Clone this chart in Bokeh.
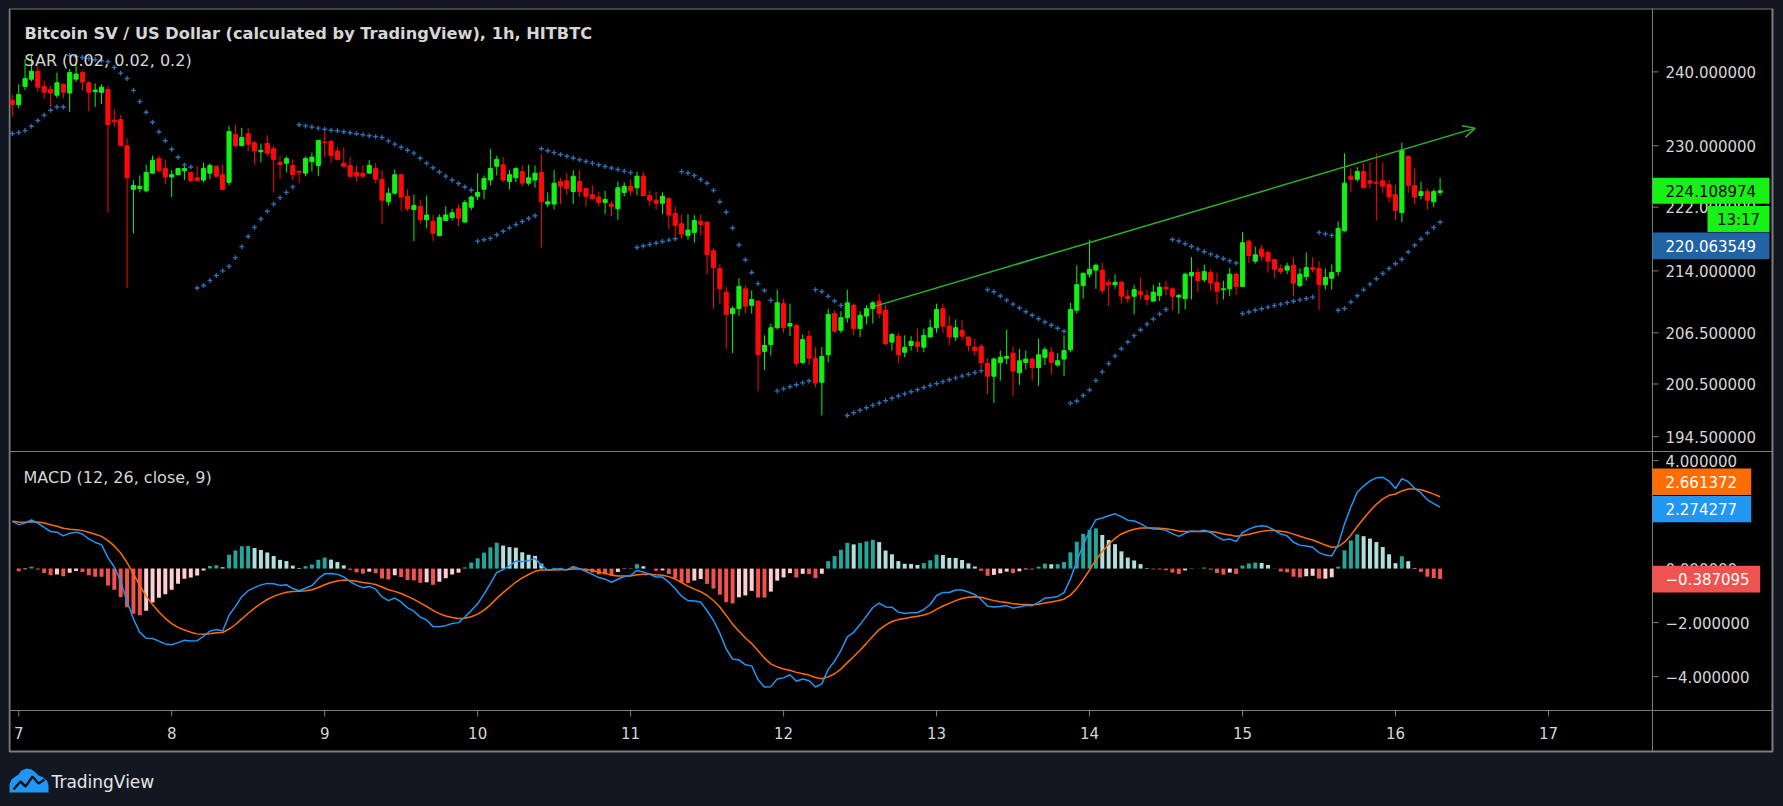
import math
from bokeh.plotting import figure
from bokeh.models import Range1d, LinearScale, Arrow, OpenHead
from bokeh.core.properties import value
from bokeh.embed import file_html
from bokeh.resources import INLINE

# ---------------- data (BSV/USD, 1h, HitBTC; candle 0 = Jul 6 23:00) ----------------
opens = [236.1,235.5,238.0,239.0,240.1,238.0,237.6,236.8,238.3,237.1,
         239.0,239.9,238.5,237.3,237.2,237.6,233.4,233.5,230.0,224.3,
         224.4,224.1,226.4,228.3,227.0,225.9,226.2,226.7,226.5,225.8,
         225.5,226.4,227.3,226.2,225.2,231.5,230.0,231.6,230.4,229.2,
         230.3,229.6,227.8,227.7,227.4,226.6,226.4,227.9,227.4,230.5,
         230.6,229.3,227.7,227.4,226.5,226.4,226.4,227.0,225.6,222.7,
         223.8,226.2,223.4,221.7,222.1,220.4,220.2,218.4,220.3,220.7,
         221.8,220.1,222.0,223.4,224.3,225.5,227.3,227.5,225.3,225.8,
         226.6,225.1,225.5,226.5,222.4,222.4,225.3,225.4,224.0,225.3,
         224.4,223.6,223.3,222.6,222.4,221.8,223.9,224.7,224.5,226.0,
         223.5,222.9,222.5,223.1,221.2,219.9,218.4,218.8,220.2,220.1,
         216.5,214.3,211.4,208.8,209.4,211.8,209.8,210.3,204.3,205.1,
         207.1,210.0,207.3,207.4,203.0,206.1,203.5,200.7,203.9,208.8,
         206.8,208.3,209.8,207.0,208.5,209.4,210.3,209.2,205.4,206.1,
         204.2,205.0,205.4,204.8,206.0,207.1,209.4,207.3,206.0,206.8,
         206.0,204.8,204.9,202.9,201.4,203.0,203.5,204.1,201.8,203.0,
         203.4,202.4,203.6,204.2,202.7,203.4,204.5,209.2,212.2,213.6,
         214.1,214.1,212.6,212.3,212.6,210.9,210.9,211.5,211.0,210.3,
         211.0,212.0,211.8,210.8,210.6,213.4,213.8,212.9,213.8,212.6,
         211.7,211.8,213.6,212.1,217.7,215.2,216.7,216.3,215.4,214.3,
         214.1,214.7,212.2,213.3,214.4,214.3,212.3,213.1,213.9,219.0,
         226.0,225.6,226.6,225.4,225.2,225.4,224.9,223.6,221.3,228.6,
         224.8,223.5,224.0,222.7,223.9]
highs = [236.9,238.3,241.8,242.3,240.8,238.8,238.1,239.9,238.4,240.4,
         241.1,240.2,238.7,238.4,238.3,238.1,234.9,234.1,231.0,225.5,
         226.1,227.5,228.7,228.7,228.2,226.8,227.0,227.2,226.5,227.3,
         227.8,227.7,227.4,227.5,232.6,232.8,232.4,232.4,230.6,230.3,
         231.4,230.0,228.7,228.6,228.2,226.8,228.6,229.1,230.7,232.0,
         230.7,229.8,229.8,228.5,227.4,227.4,228.1,227.7,226.8,224.5,
         226.9,226.2,224.3,223.6,222.9,223.5,221.0,221.1,222.1,221.8,
         222.4,222.9,223.5,226.4,226.1,229.6,228.7,228.5,226.8,227.2,
         227.4,227.5,227.4,228.9,223.9,226.8,225.8,226.4,226.8,226.8,
         224.5,224.8,224.0,224.1,222.7,225.3,225.2,225.6,226.6,226.6,
         224.1,224.0,223.9,223.3,222.1,221.1,221.1,221.0,221.1,220.2,
         216.8,214.8,212.1,209.7,213.1,212.2,211.6,210.4,206.2,207.6,
         211.7,210.6,210.0,207.5,206.3,206.8,204.8,204.8,209.4,209.2,
         209.1,211.7,210.0,209.1,209.8,210.3,211.2,209.9,206.5,206.5,
         206.2,206.1,207.0,207.0,208.1,210.0,210.0,208.6,208.1,208.0,
         206.0,205.8,205.2,203.5,203.6,204.4,206.9,204.9,204.6,204.4,
         203.6,205.8,204.8,204.8,204.1,206.2,210.1,214.7,213.8,217.9,
         214.9,215.0,213.0,213.6,212.8,211.7,212.3,213.2,211.6,212.3,
         212.6,212.8,212.0,211.2,213.8,215.7,214.3,214.8,214.2,213.8,
         212.8,214.4,213.8,218.8,217.9,217.0,217.2,216.5,215.4,214.8,
         215.0,215.7,214.3,216.3,215.7,215.2,214.3,214.8,220.2,229.0,
         227.0,227.2,227.8,227.8,229.0,227.8,225.5,224.9,230.4,228.7,
         227.0,225.3,224.4,224.3,225.8]
lows = [233.9,235.0,237.5,238.7,237.2,236.3,235.2,236.4,236.4,234.5,
        238.6,237.4,234.6,235.2,235.6,221.3,232.5,230.0,211.9,218.7,
        223.9,223.9,226.4,226.5,225.0,223.3,226.1,225.5,225.2,225.4,
        225.2,225.6,225.8,224.3,224.8,229.8,230.0,229.3,227.5,227.8,
        228.6,223.9,225.6,226.5,225.5,225.1,226.0,226.6,226.0,228.5,
        227.7,228.1,227.1,225.7,225.3,225.8,226.4,225.1,219.9,222.2,
        223.6,221.5,221.5,217.7,219.9,219.3,217.7,218.3,220.2,220.3,
        219.6,220.1,221.6,222.9,223.0,224.8,226.1,225.2,224.3,225.2,
        224.7,224.8,224.5,216.9,222.0,221.7,222.4,223.6,222.4,223.3,
        222.1,222.9,222.1,221.1,220.8,220.4,223.4,223.5,223.5,223.4,
        222.2,221.7,221.1,219.2,218.3,218.0,217.9,217.5,218.4,213.6,
        209.4,210.0,204.6,204.1,208.5,208.8,208.8,199.7,202.1,203.8,
        206.9,206.5,206.1,202.5,202.8,202.7,200.1,196.9,203.0,206.5,
        206.5,207.7,206.2,206.0,207.5,207.6,208.2,205.0,204.4,202.9,
        203.6,204.4,204.2,204.2,206.0,206.5,206.5,205.0,205.5,205.6,
        204.3,203.8,202.3,199.3,198.3,200.9,202.8,199.1,200.4,202.2,
        200.9,200.3,202.7,201.6,202.5,201.4,204.2,208.8,210.6,213.2,
        211.8,211.2,209.7,211.8,210.0,210.1,208.7,210.5,209.8,210.3,
        210.3,211.0,209.2,208.8,209.3,210.5,211.4,212.6,211.6,209.9,
        210.5,210.9,211.1,212.0,215.0,214.9,215.2,213.8,213.1,213.6,
        213.6,210.9,212.0,212.8,213.8,209.2,211.7,211.7,213.4,218.9,
        223.9,225.3,224.5,224.4,220.3,223.8,222.6,220.4,220.1,223.8,
        222.4,223.0,221.7,222.0,223.5]
closes = [235.5,236.9,239.1,240.1,237.9,237.2,237.1,238.5,237.2,239.9,
          239.7,238.6,237.2,237.5,237.9,232.8,233.2,230.0,225.8,224.8,
          224.7,226.5,228.1,226.7,225.9,226.2,227.0,227.0,225.4,225.4,
          227.0,227.4,226.0,224.3,231.9,230.0,231.1,230.2,229.3,229.4,
          229.0,228.2,227.5,228.3,226.2,226.5,228.3,228.5,230.7,230.4,
          228.7,228.2,227.3,226.0,226.0,226.0,227.4,225.6,222.9,223.8,
          226.2,223.3,221.8,222.2,220.4,221.0,218.7,220.7,221.0,221.3,
          220.6,222.6,223.3,223.9,225.7,227.0,228.2,225.5,226.2,227.0,
          225.1,225.8,226.4,222.7,222.7,225.1,224.7,224.4,226.0,224.0,
          223.4,223.1,222.6,223.0,222.1,224.5,224.7,224.1,226.0,223.5,
          222.9,222.5,223.4,221.0,219.7,218.6,219.1,220.3,219.8,216.0,
          214.4,211.8,208.7,209.4,212.1,209.7,210.5,203.9,205.0,207.1,
          210.1,207.1,207.6,202.9,205.7,203.5,200.6,203.7,208.7,206.7,
          208.3,210.1,207.0,208.6,209.4,210.1,208.8,205.2,206.3,203.9,
          204.8,205.5,204.9,206.2,207.1,209.3,207.3,206.0,207.1,206.1,
          205.0,204.4,203.0,201.4,203.4,203.6,203.7,202.0,203.2,203.4,
          202.4,203.9,204.5,203.0,203.2,204.4,209.3,212.3,213.7,214.2,
          214.7,211.6,212.3,212.6,210.9,210.6,211.7,211.1,210.5,211.4,
          212.0,211.8,210.9,211.0,213.6,213.8,212.8,213.9,212.5,211.5,
          211.8,213.6,212.1,217.5,215.9,216.0,215.8,215.2,214.2,213.9,
          214.6,212.5,213.6,214.4,214.2,212.3,213.2,213.8,219.3,225.1,
          225.6,226.6,224.5,225.1,225.1,224.7,223.3,221.6,229.4,224.8,
          223.3,224.0,222.9,224.0,224.108974]

# indicator settings / state at first visible bar
sar_params = [0.02, 0.02, 0.2]
sar_init = [231.52, 237.5, 0.02]      # sar, extreme point, acceleration (uptrend)
macd_params = [12, 26, 9]
macd_start = 1.75
signal_start = 1.75
ema_fast_start = 236.8

# time axis
day_labels = ["7", "8", "9", "10", "11", "12", "13", "14", "15", "16", "17"]
day_index = [1 + 24 * k for k in range(len(day_labels))]

# axis ticks
price_ticks = [194.5, 200.5, 206.5, 214.0, 222.0, 230.0, 240.0]
macd_ticks = [-4.0, -2.0, 0.0, 2.0, 4.0]

# last values shown on the price scale
last_price = 224.108974
last_sar = 220.063549
last_signal = 2.661372
last_macd = 2.274277
last_hist = -0.387095
countdown = "13:17"

# user-drawn trend line (bar index, price)
trend_idx = [135.4, 229.5]
trend_price = [209.7, 232.35]

title_text = "Bitcoin SV / US Dollar (calculated by TradingView), 1h, HITBTC"
sar_text = "SAR (0.02, 0.02, 0.2)"
macd_text = "MACD (12, 26, close, 9)"

# ---------------- indicators ----------------
n = len(closes)
idx = list(range(n))

def parabolic_sar(h, l, start, inc, mx, res, mm, acc):
    below = True
    out = []
    for i in range(len(h)):
        first = False
        res = res + acc * (mm - res)
        if below:
            if res > l[i]:
                first = True
                below = False
                res = max(h[i], mm)
                mm = l[i]
                acc = start
        else:
            if res < h[i]:
                first = True
                below = True
                res = min(l[i], mm)
                mm = h[i]
                acc = start
        if not first:
            if below:
                if h[i] > mm:
                    mm = h[i]
                    acc = min(acc + inc, mx)
            else:
                if l[i] < mm:
                    mm = l[i]
                    acc = min(acc + inc, mx)
        if below:
            if i >= 1:
                res = min(res, l[i - 1])
            if i >= 2:
                res = min(res, l[i - 2])
        else:
            if i >= 1:
                res = max(res, h[i - 1])
            if i >= 2:
                res = max(res, h[i - 2])
        out.append(res)
    return out

sar = parabolic_sar(highs, lows, sar_params[0], sar_params[1], sar_params[2],
                    sar_init[0], sar_init[1], sar_init[2])

a_f = 2.0 / (macd_params[0] + 1)
a_s = 2.0 / (macd_params[1] + 1)
a_g = 2.0 / (macd_params[2] + 1)
e_f = ema_fast_start
e_s = ema_fast_start - macd_start
sig = signal_start
macd, signal, hist = [], [], []
for i, c in enumerate(closes):
    if i:
        e_f += a_f * (c - e_f)
        e_s += a_s * (c - e_s)
    m = e_f - e_s
    if i:
        sig += a_g * (m - sig)
    macd.append(m)
    signal.append(sig)
    hist.append(m - sig)

hist_cols = []
prev = None
for hv in hist:
    if hv >= 0:
        hist_cols.append("#26a69a" if (prev is None or hv > prev) else "#b2dfdb")
    else:
        hist_cols.append("#ef5350" if (prev is None or hv < prev) else "#ffcdd2")
    prev = hv

UP, DOWN = "#14f014", "#ff0a0a"
cols = [UP if c >= o else DOWN for o, c in zip(opens, closes)]
body_top = [max(o, c) for o, c in zip(opens, closes)]
body_bot = [min(o, c) for o, c in zip(opens, closes)]

# ---------------- layout (page pixels) ----------------
W, H = 1767, 790
OX, OY = 8, 8
CANDLE0_X, HOUR_PX = 11.83, 6.374
REF_P, REF_Y, LOG_PX = 240.0, 71.4, 1735.5
ZERO_Y, MACD_PX = 568.1, 27.0

x_rng = Range1d((OX - CANDLE0_X) / HOUR_PX, (OX + W - CANDLE0_X) / HOUR_PX)
p_top = REF_P * math.exp((REF_Y - OY) / LOG_PX)
p_bot = REF_P * math.exp(-(OY + H - REF_Y) / LOG_PX)
m_top = (ZERO_Y - OY) / MACD_PX
m_bot = (ZERO_Y - (OY + H)) / MACD_PX

p = figure(width=W, height=H, x_range=x_rng, y_range=Range1d(p_bot, p_top),
           y_axis_type="log", x_axis_location=None, y_axis_location=None,
           toolbar_location=None, output_backend="svg", min_border=0,
           background_fill_color="#131722", border_fill_color="#131722",
           outline_line_color=None)
p.extra_x_ranges = {"px": Range1d(OX, OX + W)}
p.extra_y_ranges = {"py": Range1d(OY + H, OY), "macd": Range1d(m_bot, m_top)}
p.extra_x_scales = {"px": LinearScale()}
p.extra_y_scales = {"py": LinearScale(), "macd": LinearScale()}
for g in p.grid:
    g.visible = False

FRAME = "#7d7d7d"
TXT = "#d6d6d6"
AXF = value("DejaVu Sans")

# chart background + frame
p.quad(left=[9], right=[1772], top=[8], bottom=[751], x_range_name="px", y_range_name="py",
       fill_color="#000000", line_color=FRAME, line_width=2)
p.segment(x0=[9, 9, 1652], y0=[451, 710, 8], x1=[1772, 1772, 1652], y1=[451, 710, 751],
          x_range_name="px", y_range_name="py", line_color=FRAME, line_width=1)

# SAR
p.scatter(idx, sar, marker="cross", size=5, line_color="#2e6db4", line_width=1.4)

# candles
p.segment(x0=idx, y0=highs, x1=idx, y1=lows, line_color=cols, line_width=1)
p.vbar(x=idx, width=0.65, top=body_top, bottom=body_bot, fill_color=cols, line_color=cols, line_width=1)

# trend line
p.add_layout(Arrow(end=OpenHead(size=12, line_color="#2ab52a", line_width=1.5),
                   x_start=trend_idx[0], y_start=trend_price[0],
                   x_end=trend_idx[1], y_end=trend_price[1],
                   line_color="#2ab52a", line_width=1.5))

# MACD
p.vbar(x=idx, width=0.62, top=hist, bottom=0, fill_color=hist_cols, line_color=None, y_range_name="macd")
p.line(idx, signal, line_color="#ff6d00", line_width=1.5, y_range_name="macd")
p.line(idx, macd, line_color="#2196f3", line_width=1.5, y_range_name="macd")

# legends
p.text(x=[24], y=[33], text=[title_text], x_range_name="px", y_range_name="py",
       text_font=AXF, text_font_style="bold", text_font_size=value("16.2px"),
       text_color=TXT, text_baseline="middle", text_align="left")
p.text(x=[24, 23], y=[60, 477], text=[sar_text, macd_text], x_range_name="px", y_range_name="py",
       text_font=AXF, text_font_size=value("16px"),
       text_color=TXT, text_baseline="middle", text_align="left")

# price scale
p.segment(x0=[1652] * len(price_ticks), x1=[1658] * len(price_ticks), y0=price_ticks, y1=price_ticks,
          x_range_name="px", line_color=FRAME, line_width=1)
p.text(x=[1665] * len(price_ticks), y=price_ticks, text=["%.6f" % t for t in price_ticks],
       x_range_name="px", text_font=AXF, text_font_size=value("15px"), text_color=TXT,
       text_baseline="middle", text_align="left")

def fmt(v):
    return ("\u2212" if v < 0 else "") + "%.6f" % abs(v)

p.segment(x0=[1652] * len(macd_ticks), x1=[1658] * len(macd_ticks), y0=macd_ticks, y1=macd_ticks,
          x_range_name="px", y_range_name="macd", line_color=FRAME, line_width=1)
p.text(x=[1665] * len(macd_ticks), y=macd_ticks, text=[fmt(t) for t in macd_ticks],
       x_range_name="px", y_range_name="macd", text_font=AXF, text_font_size=value("15px"),
       text_color=TXT, text_baseline="middle", text_align="left")

# time scale
p.segment(x0=day_index, x1=day_index, y0=[710] * len(day_index), y1=[716] * len(day_index),
          y_range_name="py", line_color=FRAME, line_width=1)
p.text(x=day_index, y=[732] * len(day_index), text=day_labels, y_range_name="py",
       text_font=AXF, text_font_size=value("15px"), text_color=TXT,
       text_baseline="middle", text_align="center")

# value labels on the price scale
GREEN_LBL = "#16f216"
p.rect(x=[1710.5], y=[last_price], width=117, height=26, height_units="screen",
       x_range_name="px", fill_color=GREEN_LBL, line_color=None)
p.text(x=[1665], y=[last_price], text=["%.6f" % last_price], x_range_name="px",
       text_font=AXF, text_font_size=value("15px"), text_color="#000000",
       text_baseline="middle", text_align="left")
p.quad(left=[1707], right=[1769], top=[205.5], bottom=[231.5], x_range_name="px", y_range_name="py",
       fill_color=GREEN_LBL, line_color=None)
p.text(x=[1738], y=[219], text=[countdown], x_range_name="px", y_range_name="py",
       text_font=AXF, text_font_size=value("15px"), text_color="#000000",
       text_baseline="middle", text_align="center")
p.quad(left=[1652], right=[1769], top=[232], bottom=[258.7], x_range_name="px", y_range_name="py",
       fill_color="#2263a6", line_color=None)
p.text(x=[1665], y=[245.4], text=["%.6f" % last_sar], x_range_name="px", y_range_name="py",
       text_font=AXF, text_font_size=value("15px"), text_color="#ffffff",
       text_baseline="middle", text_align="left")

p.quad(left=[1652, 1652], right=[1750.7, 1750.7], top=[468.1, 495.4], bottom=[494.5, 521.7],
       x_range_name="px", y_range_name="py", fill_color=["#ff6d00", "#2196f3"], line_color=None)
p.text(x=[1665, 1665], y=[481.3, 508.6], text=[fmt(last_signal), fmt(last_macd)],
       x_range_name="px", y_range_name="py", text_font=AXF, text_font_size=value("15px"),
       text_color="#ffffff", text_baseline="middle", text_align="left")
p.rect(x=[1705.85], y=[last_hist], width=107.7, height=26.8, height_units="screen",
       x_range_name="px", y_range_name="macd", fill_color="#ef5350", line_color=None)
p.text(x=[1665], y=[last_hist], text=[fmt(last_hist)], x_range_name="px", y_range_name="macd",
       text_font=AXF, text_font_size=value("15px"), text_color="#ffffff",
       text_baseline="middle", text_align="left")

# TradingView logo
p.patch(x=[9, 9, 11, 15, 18, 21, 26, 31, 35, 38, 43, 47, 48, 48],
        y=[792, 784, 779, 776, 774, 770, 768, 769, 772, 775, 777, 781, 785, 792],
        x_range_name="px", y_range_name="py", fill_color="#2196f3", line_color=None)
p.line(x=[13, 20, 25, 32, 38, 44], y=[789, 781, 786, 776, 783, 779],
       x_range_name="px", y_range_name="py", line_color="#131722", line_width=2.5)
p.text(x=[51], y=[781], text=["TradingView"], x_range_name="px", y_range_name="py",
       text_font=AXF, text_font_size=value("17px"), text_color="#e6e6e6",
       text_baseline="middle", text_align="left")

html = file_html(p, INLINE, title="Bitcoin SV / US Dollar")
html = html.replace("</head>", "<style>html,body{background-color:#131722;}body{margin:8px;overflow:hidden;}</style></head>", 1)
open("out.html", "w").write(html)
